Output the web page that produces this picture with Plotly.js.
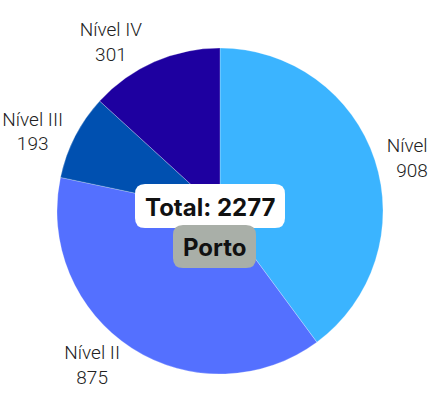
<!DOCTYPE html>
<html>
<head>
<meta charset="utf-8">
<script src="https://cdn.plot.ly/plotly-3.0.1.min.js"></script>
<style>html,body{margin:0;padding:0;background:#fff;}#chart{width:432px;height:406px;}</style>
</head>
<body>
<div id="chart"></div>
<script>
const categories = ["Nível I", "Nível II", "Nível III", "Nível IV"];
const values = [908, 875, 193, 301];
const colors = ["#3BB4FF", "#5470FF", "#0050B0", "#1E00A0"];
const totalLabel = "Total: " + values.reduce((a, b) => a + b, 0);
const cityLabel = "Porto";

const W = 432, H = 406;
function roundedBox(x0, y0, x1, y1, r) {
  const X = v => (v / W).toFixed(5);
  const Y = v => (1 - v / H).toFixed(5);
  return "M" + X(x0 + r) + "," + Y(y0) +
    " L" + X(x1 - r) + "," + Y(y0) +
    " Q" + X(x1) + "," + Y(y0) + " " + X(x1) + "," + Y(y0 + r) +
    " L" + X(x1) + "," + Y(y1 - r) +
    " Q" + X(x1) + "," + Y(y1) + " " + X(x1 - r) + "," + Y(y1) +
    " L" + X(x0 + r) + "," + Y(y1) +
    " Q" + X(x0) + "," + Y(y1) + " " + X(x0) + "," + Y(y1 - r) +
    " L" + X(x0) + "," + Y(y0 + r) +
    " Q" + X(x0) + "," + Y(y0) + " " + X(x0 + r) + "," + Y(y0) + " Z";
}

const trace = {
  type: "pie",
  labels: categories,
  values: values,
  sort: false,
  direction: "clockwise",
  rotation: 0,
  marker: { colors: colors, line: { color: "rgba(255,255,255,0.5)", width: 0.5 } },
  textinfo: "label+value",
  textposition: "outside",
  texttemplate: "%{label}<br>%{value}",
  textfont: { family: "Roboto, sans-serif", size: 19, weight: 300, color: "#222" },
  hoverinfo: "none",
  showlegend: false,
  domain: { x: [0.1319, 0.8866], y: [0.0788, 0.8818] }
};

const layout = {
  width: W,
  height: H,
  margin: { l: 0, r: 0, t: 0, b: 0 },
  paper_bgcolor: "#fff",
  showlegend: false,
  shapes: [
    { type: "path", xref: "paper", yref: "paper", path: roundedBox(135, 184, 285, 228, 10),
      fillcolor: "#ffffff", line: { width: 0 }, layer: "above" },
    { type: "path", xref: "paper", yref: "paper", path: roundedBox(173, 225, 256, 268, 10),
      fillcolor: "#A9AFA8", line: { width: 0 }, layer: "above" }
  ],
  annotations: [
    {
      text: "<b>" + totalLabel + "</b>",
      xref: "paper", yref: "paper", x: 210 / W, y: 1 - 207 / H,
      showarrow: false,
      font: { family: "Inter, sans-serif", size: 24, color: "#111" }
    },
    {
      text: "<b>" + cityLabel + "</b>",
      xref: "paper", yref: "paper", x: 214.5 / W, y: 1 - 247 / H,
      showarrow: false,
      font: { family: "Inter, sans-serif", size: 24, color: "#111" }
    }
  ]
};

Plotly.newPlot("chart", [trace], layout, { displayModeBar: false, staticPlot: true });
</script>
</body>
</html>
